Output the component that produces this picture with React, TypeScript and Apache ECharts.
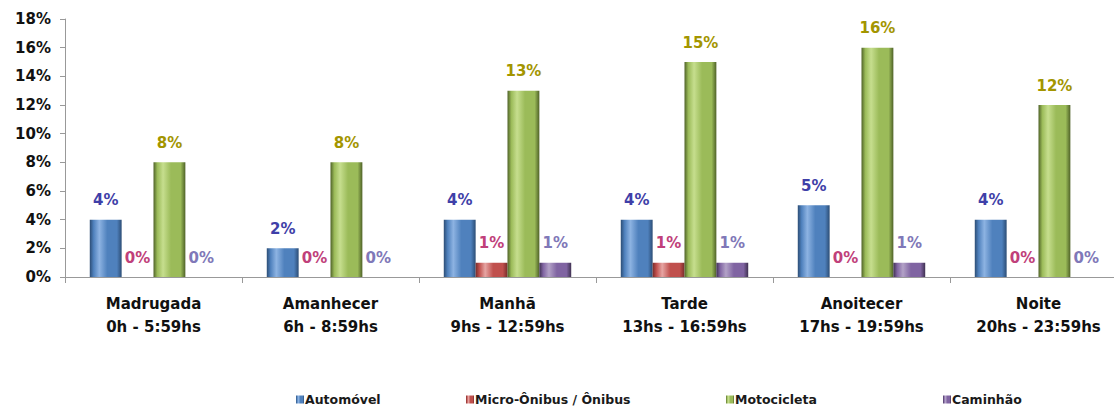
import React, { useEffect, useRef } from "react";
import * as echarts from "echarts";

const categories = [
  "Madrugada\n0h - 5:59hs",
  "Amanhecer\n6h - 8:59hs",
  "Manhã\n9hs - 12:59hs",
  "Tarde\n13hs - 16:59hs",
  "Anoitecer\n17hs - 19:59hs",
  "Noite\n20hs - 23:59hs",
];
const seriesNames = ["Automóvel", "Micro-Ônibus / Ônibus", "Motocicleta", "Caminhão"];
const automovel = [4, 2, 4, 4, 5, 4];
const onibus = [0, 0, 1, 1, 0, 0];
const motocicleta = [8, 8, 13, 15, 16, 12];
const caminhao = [0, 0, 1, 1, 1, 0];

const colors = [
  { base: "#4F81BD", light: "#8DB3E2", dark: "#2C4D75", label: "#3F3FA8" },
  { base: "#C0504D", light: "#E6A5A3", dark: "#772C2A", label: "#C0407A" },
  { base: "#9BBB59", light: "#C6DE8E", dark: "#4F6228", label: "#A39500" },
  { base: "#8064A2", light: "#B3A2C7", dark: "#3F3151", label: "#8078B8" },
];

const FONT = "DejaVu Sans";

export default function App() {
  const ref = useRef<HTMLDivElement>(null);
  useEffect(() => {
    if (!ref.current) return;
    const chart = echarts.init(ref.current, null, { renderer: "svg" });
    const datas = [automovel, onibus, motocicleta, caminhao];
    const legendLefts = [296, 466, 726, 943];
    chart.setOption({
      animation: false,
      grid: { left: 65, top: 19, bottom: 131, right: 13, containLabel: false },
      legend: seriesNames.map((n, i) => ({
        data: [n],
        left: legendLefts[i],
        top: 393,
        itemWidth: 8,
        itemHeight: 8,
        itemGap: 0,
        padding: 0,
        textStyle: {
          fontFamily: FONT,
          fontSize: 12.5,
          fontWeight: "bold",
          color: "#1a1a1a",
          padding: [0, 0, 0, -4],
        },
        icon: "rect",
      })),
      xAxis: {
        type: "category",
        data: categories,
        axisLine: { lineStyle: { color: "#999" } },
        axisTick: { show: true, lineStyle: { color: "#999" }, length: 6 },
        axisLabel: {
          fontFamily: FONT,
          fontWeight: "bold",
          fontSize: 15,
          color: "#111",
          lineHeight: 23,
          margin: 15,
        },
      },
      yAxis: {
        type: "value",
        min: 0,
        max: 18,
        interval: 2,
        axisLine: { show: true, lineStyle: { color: "#999" } },
        axisTick: { show: true, length: 5, lineStyle: { color: "#999" } },
        splitLine: { show: false },
        axisLabel: {
          formatter: "{value}%",
          fontFamily: FONT,
          fontWeight: "bold",
          fontSize: 15,
          color: "#111",
          margin: 14,
        },
      },
      series: datas.map((d, i) => ({
        name: seriesNames[i],
        type: "bar",
        data: d,
        barGap: "0%",
        barCategoryGap: "28%",
        itemStyle: {
          color: new echarts.graphic.LinearGradient(0, 0, 1, 0, [
            { offset: 0, color: colors[i].dark },
            { offset: 0.12, color: colors[i].base },
            { offset: 0.3, color: colors[i].light },
            { offset: 0.55, color: colors[i].base },
            { offset: 0.85, color: colors[i].base },
            { offset: 1, color: colors[i].dark },
          ]),
          borderColor: colors[i].dark,
          borderWidth: 0,
        },
        label: {
          show: true,
          position: "top",
          formatter: "{c}%",
          fontFamily: FONT,
          fontWeight: "bold",
          fontSize: 15,
          color: colors[i].label,
          distance: 12,
        },
      })),
      color: colors.map((c) => c.base),
    });
    return () => chart.dispose();
  }, []);
  return (
    <div style={{ width: 1114, height: 408, position: "absolute", left: 0, top: 0, overflow: "hidden" }}>
      <div ref={ref} style={{ width: 1140, height: 408 }} />
    </div>
  );
}
